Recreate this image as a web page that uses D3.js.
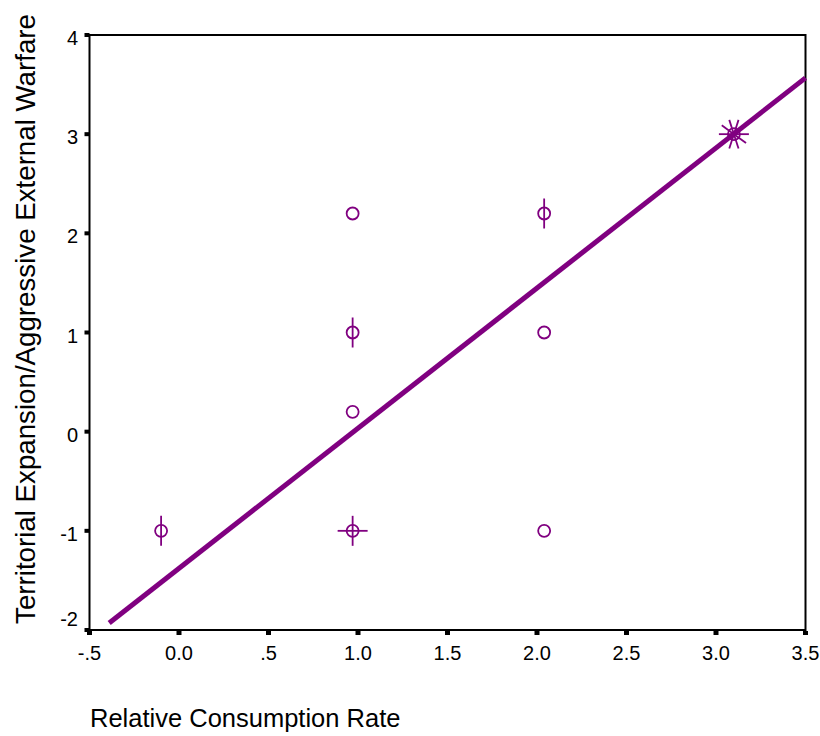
<!DOCTYPE html>
<html>
<head>
<meta charset="utf-8">
<script src="https://cdn.jsdelivr.net/npm/d3@7"></script>
<style>
  html, body { margin: 0; padding: 0; background: #fff; }
  svg { display: block; }
  text { font-family: "Liberation Sans", Arial, sans-serif; fill: #000; }
</style>
</head>
<body>
<svg id="chart" width="820" height="736"></svg>
<script>
// ---- data ----
const consumption = [-0.1, 0.97, 0.97, 0.97, 0.97, 2.04, 2.04, 2.04, 3.1];
const warfare     = [-1,   -1,   2.2,  1,    0.2,  2.2,  1,    -1,   3];
const petals      = [2,    4,    0,    2,    0,    2,    0,    0,    10];
const xTicks = [-0.5, 0, 0.5, 1, 1.5, 2, 2.5, 3, 3.5];
const xTickLabels = ["-.5", "0.0", ".5", "1.0", "1.5", "2.0", "2.5", "3.0", "3.5"];
const yTicks = [-2, -1, 0, 1, 2, 3, 4];
const yTickLabels = ["-2", "-1", "0", "1", "2", "3", "4"];
const fitIntercept = -1.378;
const fitSlope = 1.413;
const fitRange = [-0.39, 3.5];
const xTitle = "Relative Consumption Rate";
const yTitle = "Territorial Expansion/Aggressive External Warfare";

// ---- layout ----
const L = 89.5, R = 805.5, T = 35, B = 630;
const color = "#800080";
const svg = d3.select("#chart");
const x = d3.scaleLinear().domain([-0.5, 3.5]).range([L, R]);
const y = d3.scaleLinear().domain([-2, 4]).range([B, T]);

// frame
svg.append("rect").attr("x", L).attr("y", T).attr("width", R - L).attr("height", B - T)
  .attr("fill", "none").attr("stroke", "#000").attr("stroke-width", 2);

// y ticks (square marks) and labels
const yAxis = svg.append("g");
yAxis.selectAll("rect").data(yTicks).join("rect")
  .attr("x", L - 5).attr("y", d => y(d) - 2).attr("width", 5).attr("height", 4).attr("fill", "#000");
yAxis.selectAll("text").data(yTicks).join("text")
  .attr("x", 78).attr("y", (d, i) => y(d) + (i === 0 ? -11 : 3))
  .attr("dy", "0.35em").attr("text-anchor", "end").attr("font-size", 20)
  .text((d, i) => yTickLabels[i]);

// x ticks and labels
const xAxis = svg.append("g");
xAxis.selectAll("rect").data(xTicks).join("rect")
  .attr("x", d => x(d) - 2.5).attr("y", B + 1).attr("width", 5).attr("height", 4).attr("fill", "#000");
xAxis.selectAll("text").data(xTicks).join("text")
  .attr("x", d => x(d)).attr("y", 660).attr("text-anchor", "middle").attr("font-size", 20)
  .text((d, i) => xTickLabels[i]);

// fit line
const line = d3.line().x(d => x(d)).y(d => y(fitIntercept + fitSlope * d));
svg.append("path").datum(fitRange).attr("d", line)
  .attr("fill", "none").attr("stroke", color).attr("stroke-width", 5);

// sunflower markers
const pts = consumption.map((c, i) => ({ x: c, y: warfare[i], p: petals[i] }));
const g = svg.append("g").attr("stroke", color).attr("fill", "none");
pts.forEach(d => {
  const cx = x(d.x), cy = y(d.y);
  g.append("circle").attr("cx", cx).attr("cy", cy).attr("r", 6).attr("stroke-width", 1.8);
  if (d.p === 2) {
    g.append("line").attr("x1", cx).attr("x2", cx).attr("y1", cy - 15).attr("y2", cy + 15).attr("stroke-width", 1.8);
  } else if (d.p === 4) {
    g.append("line").attr("x1", cx).attr("x2", cx).attr("y1", cy - 15).attr("y2", cy + 15).attr("stroke-width", 1.8);
    g.append("line").attr("x1", cx - 15).attr("x2", cx + 15).attr("y1", cy).attr("y2", cy).attr("stroke-width", 1.8);
  } else if (d.p > 4) {
    for (let k = 0; k < d.p; k++) {
      const a = (2 * Math.PI * k) / d.p;
      g.append("line").attr("x1", cx).attr("y1", cy)
        .attr("x2", cx + 15 * Math.cos(a)).attr("y2", cy - 15 * Math.sin(a)).attr("stroke-width", 1.8);
    }
  }
});

// axis titles
svg.append("text").attr("x", 90).attr("y", 727).attr("font-size", 25.5).text(xTitle);
svg.append("text").attr("transform", "translate(35,319) rotate(-90)")
  .attr("text-anchor", "middle").attr("font-size", 27.7).text(yTitle);
</script>
</body>
</html>
